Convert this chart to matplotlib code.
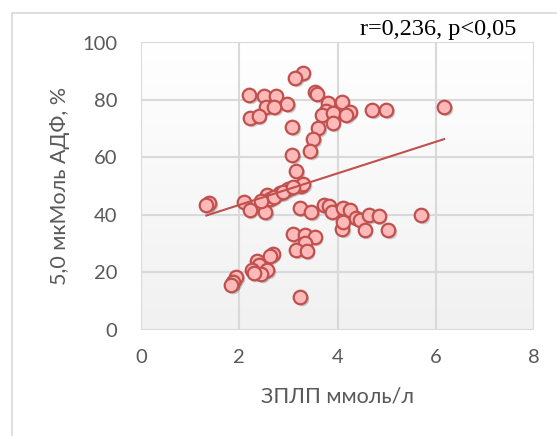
import numpy as np
import matplotlib
matplotlib.use("Agg")
import matplotlib.pyplot as plt
from matplotlib.patches import Rectangle
from matplotlib import transforms

# TG-rich lipoproteins (mmol/l) vs ADP 5.0 uM aggregation (%)
zpl = [3.29, 3.14, 2.20, 2.50, 2.74, 2.98, 2.55, 2.71, 2.22, 2.40,
       3.08, 3.55, 3.58, 3.80, 4.09, 3.77, 3.68, 3.91, 4.25, 4.18,
       3.90, 3.61, 3.51, 3.45, 4.71, 4.99, 6.17, 3.08, 3.16,
       1.39, 1.33, 2.10, 2.21, 2.53, 2.56, 2.83, 3.00, 3.25, 3.30,
       3.23, 3.47, 3.72, 3.82, 3.89, 4.11, 4.25, 4.10, 4.11, 4.38,
       4.45, 4.55, 4.65, 4.84, 5.03, 5.70,
       2.62, 2.70, 2.90, 3.10, 2.45,
       3.10, 3.33, 3.54, 3.33, 3.16, 3.37, 2.68, 2.62, 2.37, 2.40,
       2.57, 2.25, 2.45, 2.30, 1.94, 1.88, 1.84, 3.24]
adp = [89.5, 87.5, 81.7, 81.5, 81.4, 78.7, 77.6, 77.6, 73.6, 74.5,
       70.4, 82.9, 82.0, 78.8, 79.4, 76.2, 74.6, 75.3, 75.9, 74.7,
       71.8, 70.2, 66.4, 62.2, 76.5, 76.5, 77.6, 60.8, 55.4,
       44.0, 43.4, 44.5, 41.5, 41.0, 46.7, 47.5, 49.0, 50.0, 50.6,
       42.2, 41.0, 43.4, 43.0, 41.0, 42.2, 41.6, 35.1, 37.6, 38.7,
       38.2, 34.7, 39.9, 39.7, 34.8, 39.9,
       45.5, 46.0, 47.8, 49.5, 44.8,
       33.4, 32.9, 32.3, 30.0, 27.7, 27.3, 26.3, 25.5, 23.8, 22.5,
       20.7, 20.7, 19.3, 19.8, 18.2, 16.7, 15.5, 11.3]

# linear trend shown on the chart
trend_slope = 5.5
trend_intercept = 32.4

x_ticks = [0, 2, 4, 6, 8]
y_ticks = [0, 20, 40, 60, 80, 100]

W, H = 557, 436
fig = plt.figure(figsize=(W / 100, H / 100), dpi=100)

# chart-area border (left and top edges only are visible)
fig.patches.append(Rectangle((12 / W, -0.1), 1.2, 1 - 13 / H + 0.1,
                             transform=fig.transFigure, fill=False,
                             edgecolor="#D9D9D9", linewidth=1.2))

ax = fig.add_axes([141 / W, (H - 329.5) / H, 393 / W, 287 / H])
ax.set_xlim(0, 8)
ax.set_ylim(0, 100)

# plot area: soft white-to-grey vertical gradient
grad = np.linspace(1.0, 0.945, 256).reshape(-1, 1)
ax.imshow(np.dstack([grad, grad, grad]), extent=[0, 1, 0, 1],
          transform=ax.transAxes, aspect="auto", zorder=0, origin="upper")

grid_c = "#D9D9D9"
for v in x_ticks:
    ax.axvline(v, color=grid_c, lw=1.5, zorder=1)
for v in y_ticks:
    ax.axhline(v, color=grid_c, lw=1.5, zorder=1)
for s in ax.spines.values():
    s.set_visible(False)

ax.set_xticks(x_ticks)
ax.set_yticks(y_ticks)
ax.tick_params(length=0, labelsize=14.5, labelcolor="#595959")
ax.tick_params(axis="y", pad=17)
ax.tick_params(axis="x", pad=14)
for lab in ax.get_xticklabels() + ax.get_yticklabels():
    lab.set_fontfamily("Lato")

ax.set_xlabel("ЗПЛП ммоль/л", fontsize=15.5, color="#595959",
              family="Lato", labelpad=15)
ax.set_ylabel("5,0 мкМоль АДФ, %", fontsize=15.5, color="#595959",
              family="Lato", labelpad=9)

# drop shadow under the markers
shadow = transforms.offset_copy(ax.transData, fig=fig, x=1.5, y=-2, units="dots")
ax.scatter(zpl, adp, s=95, color="#000000", alpha=0.18, linewidths=0,
           transform=shadow, zorder=2, clip_on=False)
ax.scatter(zpl, adp, s=95, facecolor="#FFB9B9", edgecolor="#C0504D",
           linewidths=1.6, zorder=3, clip_on=False)

xs = np.array([min(zpl), max(zpl)])
ax.plot(xs, trend_intercept + trend_slope * xs, color="#C0504D", lw=1.5, zorder=4)

fig.text(438 / W, 1 - 29 / H, "r=0,236, p<0,05", family="Liberation Serif",
         fontsize=17.5, color="black", ha="center", va="center")

fig.savefig("out.png", dpi=100)
